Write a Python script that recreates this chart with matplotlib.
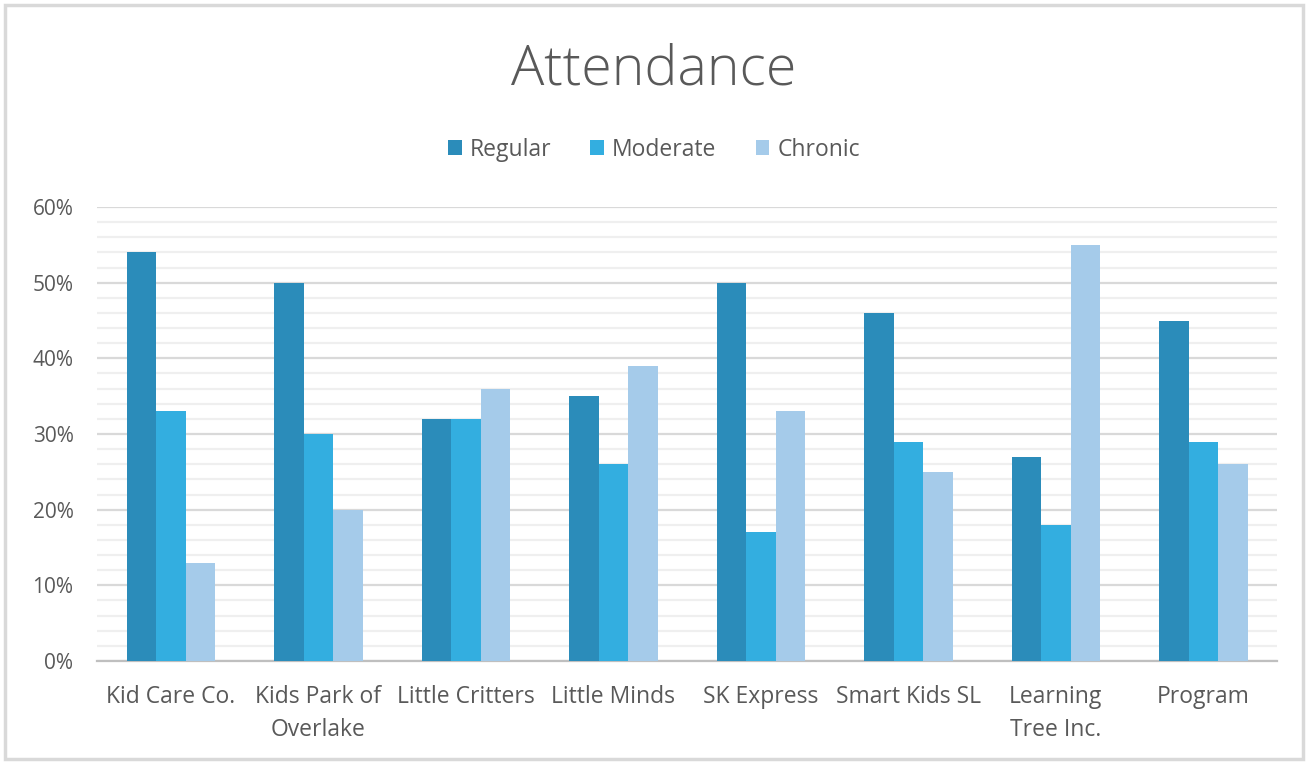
import matplotlib
matplotlib.use("Agg")
import matplotlib.pyplot as plt
import numpy as np
from matplotlib.ticker import MultipleLocator, FuncFormatter
from matplotlib.patches import Rectangle

categories = ["Kid Care Co.", "Kids Park of\nOverlake", "Little Critters", "Little Minds",
              "SK Express", "Smart Kids SL", "Learning\nTree Inc.", "Program"]
regular = [54, 50, 32, 35, 50, 46, 27, 45]
moderate = [33, 30, 32, 26, 17, 29, 18, 29]
chronic = [13, 20, 36, 39, 33, 25, 55, 26]
series_names = ["Regular", "Moderate", "Chronic"]
colors = ["#2B8CBA", "#33AEE0", "#A5CBEA"]

plt.rcParams['font.family'] = ['Open Sans', 'DejaVu Sans']
text_color = "#595959"

fig = plt.figure(figsize=(13.08, 7.64), dpi=100)
ax = fig.add_axes([0.0742, 0.1348, 0.9021, 0.5942])

x = np.arange(len(categories))
w = 0.2
for i, (vals, name, c) in enumerate(zip([regular, moderate, chronic], series_names, colors)):
    ax.bar(x + (i - 1) * w, np.array(vals) / 100, width=w, color=c, label=name, zorder=3)

ax.set_xlim(-0.5, len(categories) - 0.5)
ax.set_ylim(0, 0.6)
ax.yaxis.set_major_locator(MultipleLocator(0.1))
ax.yaxis.set_minor_locator(MultipleLocator(0.02))
ax.yaxis.set_major_formatter(FuncFormatter(lambda v, p: f"{v*100:.0f}%"))
ax.grid(axis='y', which='major', color="#D9D9D9", linewidth=1.6, zorder=0)
ax.grid(axis='y', which='minor', color="#EFEFEF", linewidth=1.6, zorder=0)
ax.set_axisbelow(True)
for s in ['top', 'right', 'left']:
    ax.spines[s].set_visible(False)
ax.spines['bottom'].set_color("#BFBFBF")
ax.spines['bottom'].set_linewidth(1.6)
ax.tick_params(axis='both', which='both', length=0, colors=text_color)
ax.tick_params(axis='y', pad=17, labelsize=15)
ax.tick_params(axis='x', pad=17, labelsize=16.5)
ax.set_xticks(x)
ax.set_xticklabels(categories, linespacing=1.5)

fig.text(0.5, 0.908, "Attendance", ha='center', va='center', fontsize=40,
         color=text_color, fontweight='light')
leg = fig.legend(loc='center', bbox_to_anchor=(0.5, 0.804), ncol=3, frameon=False,
                 fontsize=16.5, handlelength=0.6, handleheight=0.6, handletextpad=0.35,
                 columnspacing=1.7)
for t in leg.get_texts():
    t.set_color(text_color)

fig.patches.append(Rectangle((0.004, 0.006), 0.992, 0.987, transform=fig.transFigure,
                             fill=False, edgecolor="#D9D9D9", linewidth=2.5))

fig.savefig("out.png", dpi=100, facecolor='white')
